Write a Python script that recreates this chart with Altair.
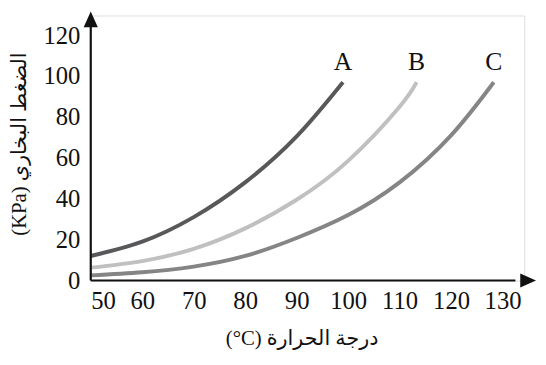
import altair as alt
import pandas as pd

# Curve data (temperature °C, vapour pressure kPa)
A_T = [50, 60, 70, 80, 90, 99]
A_P = [12, 19, 31, 48, 70.5, 97]
B_T = [50, 60, 70, 80, 90, 100, 110, 113.3]
B_P = [6.3, 9.5, 15.5, 25.5, 39.5, 58.5, 85, 97]
C_T = [50, 60, 70, 80, 90, 100, 110, 120, 128.3]
C_P = [2.5, 4, 6.8, 12, 20.8, 32, 48, 71, 97]

series = ["A", "B", "C"]
colors = ["#58585a", "#c0c0c0", "#858585"]

x_ticks = [50, 60, 70, 80, 90, 100, 110, 120, 130]
y_ticks = [0, 20, 40, 60, 80, 100, 120]

x_domain = [50, 134.21]
y_domain = [0, 129.64]
x_tip = [136.5]
y_tip = [131.6]

x_title = "(°C) درجة الحرارة"
y_title = "(KPa) الضغط البخاري"

rows = []
for name, ts, ps in zip(series, [A_T, B_T, C_T], [A_P, B_P, C_P]):
    for t, p in zip(ts, ps):
        rows.append({"s": name, "T": t, "P": p})
df = pd.DataFrame(rows)
ends = df.groupby("s").tail(1)

serif = "Liberation Serif, DejaVu Serif, DejaVu Sans"

xs = alt.Scale(domain=x_domain, nice=False, zero=False)
ys = alt.Scale(domain=y_domain, nice=False, zero=False)

xax = alt.Axis(values=x_ticks, domain=False, ticks=False, tickSize=0, grid=False,
               labelFont=serif, labelFontSize=25, labelColor="#111", labelPadding=8,
               title=x_title, titleFont=serif, titleFontSize=21, titleFontWeight="normal",
               titleColor="#111", titleX=214, titleY=59, titleBaseline="middle",
               titleAlign="center")
yax = alt.Axis(values=y_ticks, domain=False, ticks=False, tickSize=0, grid=False,
               labelFont=serif, labelFontSize=25, labelColor="#111", labelPadding=11,
               title=y_title, titleFont=serif, titleFontSize=21, titleFontWeight="normal",
               titleColor="#111", titleX=-72, titleY=130, titleBaseline="middle",
               titleAlign="center", titleAngle=-90)

lines = alt.Chart(df).mark_line(interpolate="natural", strokeWidth=4, strokeCap="butt").encode(
    x=alt.X("T:Q", scale=xs, axis=xax),
    y=alt.Y("P:Q", scale=ys, axis=yax),
    color=alt.Color("s:N", scale=alt.Scale(domain=series, range=colors), legend=None),
    detail="s:N",
)

labels = alt.Chart(ends).mark_text(font=serif, fontSize=26, baseline="alphabetic",
                                    align="center", dy=-12, color="#111").encode(
    x=alt.X("T:Q", scale=xs),
    y=alt.Y("P:Q", scale=ys),
    text="s:N",
)

xline = alt.Chart(pd.DataFrame({"x": [x_domain[0]], "x2": [x_tip[0] - 4], "y": [0]})).mark_rule(
    color="#111", strokeWidth=2.2).encode(
    x=alt.X("x:Q", scale=xs), x2="x2:Q", y=alt.Y("y:Q", scale=ys))
yline = alt.Chart(pd.DataFrame({"y": [0], "y2": [y_tip[0] - 4], "x": [x_domain[0]]})).mark_rule(
    color="#111", strokeWidth=2.2).encode(
    y=alt.Y("y:Q", scale=ys), y2="y2:Q", x=alt.X("x:Q", scale=xs))

xarrow = alt.Chart(pd.DataFrame({"x": x_tip, "y": [0]})).mark_point(
    shape="M0,0 L-4,-1.8 L-4,1.8 Z", size=64, filled=True, opacity=1, color="#111",
    strokeWidth=0).encode(x=alt.X("x:Q", scale=xs), y=alt.Y("y:Q", scale=ys))
yarrow = alt.Chart(pd.DataFrame({"x": [x_domain[0]], "y": y_tip})).mark_point(
    shape="M0,0 L-1.8,4 L1.8,4 Z", size=64, filled=True, opacity=1, color="#111",
    strokeWidth=0).encode(x=alt.X("x:Q", scale=xs), y=alt.Y("y:Q", scale=ys))

chart = alt.layer(lines, xline, yline, xarrow, yarrow, labels).properties(
    width=440, height=269,
    autosize=alt.AutoSizeParams(type="none"),
    padding={"left": 84, "top": 5, "right": 14, "bottom": 72},
).configure_view(stroke=None).configure(background="white")

chart.save("out.html", embed_options={"renderer": "svg", "actions": False})
